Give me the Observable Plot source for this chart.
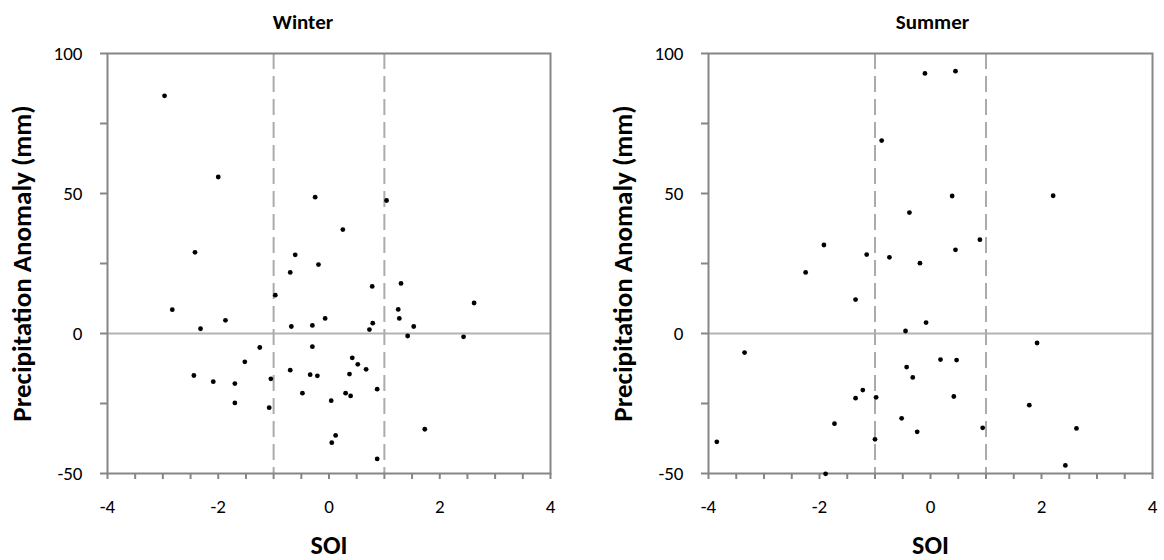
<!DOCTYPE html>
<html>
<head>
<meta charset="utf-8">
<script src="https://cdn.jsdelivr.net/npm/d3@7"></script>
<script src="https://cdn.jsdelivr.net/npm/@observablehq/plot@0.6"></script>
<style>
  html, body { margin: 0; padding: 0; background: #fff; }
  #wrap { position: relative; width: 1164px; height: 560px; }
  #wrap > div, #wrap > svg { position: absolute; top: 0; }
</style>
</head>
<body>
<div id="wrap"></div>
<script>
// Winter: SOI vs precipitation anomaly (mm)
const winterSOI = [-2.97, -2.00, -0.25, -2.42, -0.61, 1.04, 0.25, -0.19, -0.70, -0.97,
  -2.83, -1.87, -2.32, -0.68, -0.30, -1.25, -0.30, -1.52, -2.44, -2.09,
  -1.70, -0.70, -1.05, -0.34, -0.21, -0.48, -1.70, -1.08, 0.78, 1.30,
  2.62, 1.25, 1.27, -0.07, 0.79, 0.73, 1.53, 1.42, 2.43, 0.42,
  0.52, 0.67, 0.37, 0.30, 0.39, 0.87, 0.04, 0.12, 0.05, 1.73, 0.87];
const winterPrecip = [84.9, 55.9, 48.7, 29.0, 28.1, 47.5, 37.1, 24.6, 21.8, 13.7,
  8.5, 4.7, 1.7, 2.5, 2.9, -5.0, -4.7, -10.1, -15.0, -17.2,
  -17.9, -13.1, -16.2, -14.7, -15.1, -21.3, -24.8, -26.5, 16.8, 17.9,
  10.9, 8.6, 5.4, 5.4, 3.7, 1.4, 2.5, -0.9, -1.2, -8.7,
  -11.0, -12.8, -14.5, -21.3, -22.3, -19.9, -24.0, -36.4, -39.0, -34.2, -44.8];

// Summer: SOI vs precipitation anomaly (mm)
const summerSOI = [-1.92, -0.10, 0.45, -0.88, 0.39, 2.21, -0.38, 0.89, 0.45, -1.15,
  -0.74, -2.25, -1.35, -3.35, -1.35, -1.73, -3.85, -1.89, -0.19, -0.08,
  -0.45, 1.92, 0.18, 0.47, -0.43, -0.32, -1.22, -0.98, 0.42, 1.78,
  -0.52, -0.24, -1.00, 0.94, 2.63, 2.43];
const summerPrecip = [31.6, 92.9, 93.7, 68.9, 49.1, 49.2, 43.2, 33.5, 29.9, 28.2,
  27.2, 21.8, 12.1, -6.8, -23.1, -32.2, -38.7, -50.1, 25.1, 3.9,
  0.9, -3.4, -9.3, -9.5, -12.0, -15.7, -20.2, -22.8, -22.5, -25.6,
  -30.3, -35.1, -37.8, -33.7, -33.9, -47.1];

const titles = ["Winter", "Summer"];
const xLabel = "SOI";
const yLabel = "Precipitation Anomaly (mm)";
const xTicksMajor = [-4, -2, 0, 2, 4];
const xTicksMinor = [-4, -3.5, -3, -2.5, -2, -1.5, -1, -0.5, 0, 0.5, 1, 1.5, 2, 2.5, 3, 3.5, 4];
const yTicksMajor = [-50, 0, 50, 100];
const yTicksMinor = [-50, -25, 0, 25, 50, 75, 100];
const phaseLines = [-1, 1];

const FONT = "Carlito, Calibri, Lato, sans-serif";
const AXIS = "#868686";
const fmt = d => d < 0 ? "-" + Math.abs(d) : String(d);

function panel(title, soi, precip, marginLeft, marginRight, titleDx) {
  const data = soi.map((s, i) => ({soi: s, precip: precip[i]}));
  return Plot.plot({
    width: 582,
    height: 560,
    marginTop: 53,
    marginBottom: 87,
    marginLeft,
    marginRight,
    style: {fontFamily: FONT, fontSize: "19px", color: "#000", background: "#fff", overflow: "visible"},
    x: {domain: [-4, 4]},
    y: {domain: [-50, 100]},
    marks: [
      Plot.ruleY([0], {stroke: "#b3b3b3", strokeWidth: 2}),
      Plot.ruleX(phaseLines, {stroke: "#ababab", strokeWidth: 2, strokeDasharray: "16,7"}),
      Plot.frame({stroke: AXIS, strokeWidth: 2}),
      Plot.axisX({ticks: xTicksMinor, tickSize: 6, tickFormat: () => "", stroke: AXIS, strokeWidth: 2, label: null}),
      Plot.axisX({ticks: xTicksMajor, tickSize: 0, tickPadding: 26, tickFormat: fmt, fill: "#000", fontSize: 19, label: null}),
      Plot.axisY({ticks: yTicksMinor, tickSize: 7, tickFormat: () => "", stroke: AXIS, strokeWidth: 2, label: null}),
      Plot.axisY({ticks: yTicksMajor, tickSize: 0, tickPadding: 25, tickFormat: fmt, fill: "#000", fontSize: 19, label: null}),
      Plot.dot(data, {x: "soi", y: "precip", r: 2.4, fill: "#000", stroke: null}),
      Plot.text([title], {frameAnchor: "top", dx: titleDx, dy: -31, fontSize: 21, fontWeight: "bold", fill: "#000", textAnchor: "middle", lineAnchor: "middle"}),
      Plot.text([xLabel], {frameAnchor: "bottom", dy: 72, fontSize: 26, fontWeight: "bold", fill: "#000", textAnchor: "middle", lineAnchor: "middle"}),
      Plot.text([yLabel], {frameAnchor: "left", dx: -85, rotate: -90, fontSize: 27, fontWeight: "bold", fill: "#000", textAnchor: "middle", lineAnchor: "middle"})
    ]
  });
}

const wrap = document.getElementById("wrap");
const left = panel(titles[0], winterSOI, winterPrecip, 107, 32, -26);
left.style.left = "0px";
wrap.appendChild(left);
const right = panel(titles[1], summerSOI, summerPrecip, 126, 12, 2);
right.style.left = "582px";
wrap.appendChild(right);
</script>
</body>
</html>
